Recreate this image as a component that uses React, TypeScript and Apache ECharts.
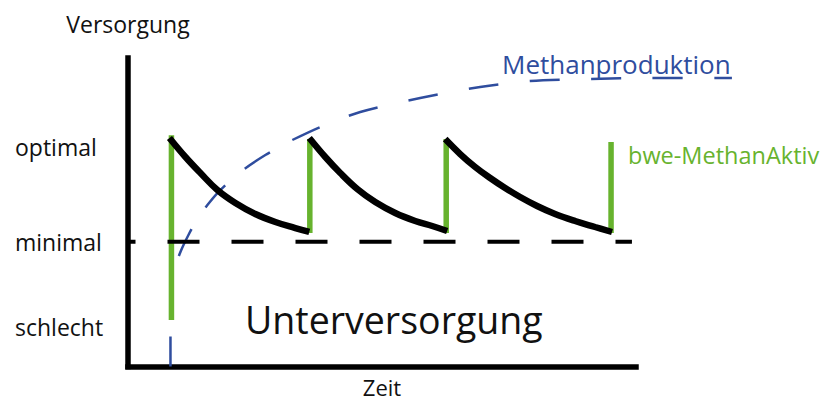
import React, { useEffect, useRef } from "react";
import * as echarts from "echarts";

// Y levels (tick labels) and their values on a 0..100 "Versorgung" scale
const levelNames = ["schlecht", "minimal", "optimal"];
const levelValues = [12.9, 40.4, 71.3];

// Black sawtooth curves (Versorgung)
const curve1X = [8.16, 11.31, 14.26, 17.6, 21.14, 25.07, 29.01, 32.94, 35.69];
const curve1Y = [74.07, 67.91, 62.72, 57.21, 53.0, 49.43, 46.84, 44.89, 43.6];
const curve2X = [35.69, 38.84, 41.79, 45.13, 48.67, 52.61, 56.54, 59.88, 62.83];
const curve2Y = [74.07, 67.91, 62.72, 57.54, 53.32, 49.76, 47.16, 45.54, 43.92];
const curve3X = [62.44, 65.39, 68.34, 71.29, 74.24, 77.19, 80.53, 84.07, 88.01, 91.94, 95.28];
const curve3Y = [73.74, 68.88, 64.67, 61.1, 57.86, 54.94, 52.03, 49.43, 47.16, 45.22, 43.6];

// Green doses (bwe-MethanAktiv)
const greenX = [8.55, 35.79, 62.64, 95.09];
const greenTop = [75.0, 73.74, 73.74, 72.77];
const greenBottom = [15.1, 43.27, 43.27, 43.27];

// Methanproduktion (blue dashed), continues past the end of the time axis
const methaneX = [8.36, 8.36, 8.55, 9.14, 10.32, 11.9, 13.67, 15.63, 17.8, 22.12, 27.04, 32.35, 37.86, 45.72, 57.52, 69.32, 79.15, 90.95, 102.75, 118.88];
const methaneY = [0, 14.1, 23.83, 31.28, 37.12, 42.63, 47.81, 52.35, 56.56, 63.05, 68.56, 73.42, 77.63, 82.5, 87.03, 90.6, 92.55, 93.19, 93.52, 93.52];
const methaneSplit = 11;

// Minimal threshold line extent (Zeit)
const minimalX = [-1.87, 99.2];

const BLUE = "#2f4d9e";
const GREEN = "#67b32e";
const TEXT = "#111111";
const FONT = "Open Sans";

const X_MAX = 100;
const X_MAX_EXT = 120;
const PX_PER_X = 5.08;

const zip = (xs: number[], ys: number[]) => xs.map((x, i) => [x, ys[i]]);

export default function App() {
  const ref = useRef<HTMLDivElement>(null);
  useEffect(() => {
    if (!ref.current) return;
    const chart = echarts.init(ref.current, undefined, { renderer: "svg" });
    const methane = zip(methaneX, methaneY);
    const lineBase = { type: "line", symbol: "none", showSymbol: false, clip: false, silent: true };
    const series: any[] = [
      {
        ...lineBase,
        name: "Methanproduktion",
        xAxisIndex: 1,
        yAxisIndex: 1,
        z: 2,
        smooth: 0.3,
        data: methane.slice(0, methaneSplit + 1),
        lineStyle: { color: BLUE, width: 2.5, type: [30, 25.6], dashOffset: 0 },
      },
      {
        ...lineBase,
        name: "Methanproduktion2",
        xAxisIndex: 1,
        yAxisIndex: 1,
        z: 2,
        smooth: 0.3,
        data: methane.slice(methaneSplit),
        lineStyle: { color: BLUE, width: 2.5, type: [30, 31.5], dashOffset: 0 },
      },
      ...greenX.map((x, i) => ({
        ...lineBase,
        name: "bwe" + i,
        z: 3,
        data: [
          [x, greenTop[i]],
          [x, greenBottom[i]],
        ],
        lineStyle: { color: GREEN, width: 5.5 },
      })),
      {
        ...lineBase,
        name: "minimal",
        z: 4,
        data: minimalX.map((x) => [x, levelValues[1]]),
        lineStyle: { color: "#000", width: 4, type: [32, 32], dashOffset: 15 },
      },
      ...[
        [curve1X, curve1Y],
        [curve2X, curve2Y],
        [curve3X, curve3Y],
      ].map(([xs, ys], i) => ({
        ...lineBase,
        name: "curve" + i,
        z: 5,
        smooth: 0.4,
        data: zip(xs, ys),
        lineStyle: { color: "#000", width: 6.5 },
      })),
    ];

    const gridTop = 58;
    const gridBottom = 36.5;
    const gridLeft = 128;

    chart.setOption({
      animation: false,
      backgroundColor: "#ffffff",
      grid: [
        { left: gridLeft, width: X_MAX * PX_PER_X, top: gridTop, bottom: gridBottom, outerBoundsMode: "none" },
        { left: gridLeft, width: X_MAX_EXT * PX_PER_X, top: gridTop, bottom: gridBottom, outerBoundsMode: "none" },
      ],
      xAxis: [
        {
          type: "value",
          gridIndex: 0,
          min: 0,
          max: X_MAX,
          name: "Zeit",
          nameLocation: "middle",
          nameGap: 10.5,
          nameTextStyle: { fontFamily: FONT, fontSize: 22, color: TEXT, lineHeight: 20 },
          axisLine: { show: true, lineStyle: { color: "#000", width: 5.5, cap: "square" } },
          axisTick: { show: false },
          axisLabel: { show: false },
          splitLine: { show: false },
        },
        {
          type: "value",
          gridIndex: 1,
          min: 0,
          max: X_MAX_EXT,
          show: false,
        },
      ],
      yAxis: [
        {
          type: "value",
          gridIndex: 0,
          min: 0,
          max: 100,
          name: "Versorgung",
          nameLocation: "end",
          nameGap: 23,
          nameTextStyle: { fontFamily: FONT, fontSize: 23, color: TEXT },
          axisLine: { show: true, lineStyle: { color: "#000", width: 5.5, cap: "square" } },
          axisTick: { show: false },
          splitLine: { show: false },
          axisLabel: {
            show: true,
            customValues: levelValues,
            align: "left",
            margin: 113,
            fontFamily: FONT,
            fontSize: 23,
            color: TEXT,
            formatter: (v: number) => {
              const i = levelValues.findIndex((lv) => Math.abs(lv - v) < 1e-6);
              return i >= 0 ? levelNames[i] : "";
            },
          },
        },
        {
          type: "value",
          gridIndex: 1,
          min: 0,
          max: 100,
          show: false,
        },
      ],
      graphic: [
        {
          type: "text",
          x: 502,
          y: 64,
          style: { text: "Methanproduktion", fill: BLUE, font: `26px '${FONT}'`, align: "left", verticalAlign: "middle" },
        },
        {
          type: "text",
          x: 628,
          y: 154.5,
          style: { text: "bwe-MethanAktiv", fill: GREEN, font: `23.5px '${FONT}'`, align: "left", verticalAlign: "middle" },
        },
        {
          type: "text",
          x: 245,
          y: 319.5,
          style: { text: "Unterversorgung", fill: TEXT, font: `37.5px '${FONT}'`, align: "left", verticalAlign: "middle" },
        },
      ],
      series,
    });
    return () => chart.dispose();
  }, []);
  return (
    <div
      ref={ref}
      style={{ position: "fixed", left: 0, top: 0, width: 840, height: 403, background: "#fff" }}
    />
  );
}
